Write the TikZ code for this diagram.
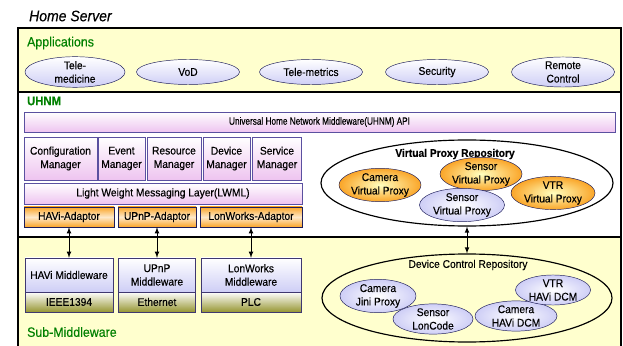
\documentclass[tikz,border=0pt]{standalone}
\usepackage{fontspec}
\setmainfont{Liberation Sans}[FakeStretch=0.92, FakeBold=0.3]
\usetikzlibrary{shapes.geometric}

\definecolor{bandyellow}{RGB}{255,255,206}
\definecolor{labelgreen}{RGB}{0,128,0}
\definecolor{boxline}{RGB}{90,80,160}
\definecolor{pinkbox}{RGB}{238,196,240}
\definecolor{lavender}{RGB}{206,206,246}
\definecolor{orangebox}{RGB}{250,165,40}
\definecolor{olivebox}{RGB}{150,150,50}
\definecolor{navyline}{RGB}{30,30,90}

\begin{document}
\begin{tikzpicture}[x=0.03cm,y=-0.03cm]

\def\u{0.03cm}

\tikzset{
    every node/.style={font=\fontsize{9.5}{11.5}\selectfont, align=center},
    band label/.style={anchor=west, text=labelgreen, font=\fontsize{11.5}{13}\selectfont},
    app/.style={ellipse, draw=navyline, top color=white, bottom color=lavender,
        middle color=lavender!50, inner sep=0pt},
    pinkbar/.style={rectangle, draw=boxline, top color=white, bottom color=pinkbox, inner sep=0pt},
    adaptor/.style={rectangle, draw=navyline, top color=orangebox, bottom color=orangebox,
        middle color=orangebox!25, inner sep=0pt, minimum height=20*\u},
    midware/.style={rectangle, draw=boxline!70!black, top color=white, bottom color=lavender,
        inner sep=0pt, minimum height=34*\u},
    phy/.style={rectangle, draw=boxline!70!black, top color=white, bottom color=olivebox,
        inner sep=0pt, minimum height=20*\u},
    repo/.style={ellipse, draw=black, line width=1pt, inner sep=0pt},
    proxy/.style={ellipse, draw=navyline, inner color=yellow!25, outer color=orangebox, inner sep=0pt},
    dcm/.style={ellipse, draw=navyline, inner color=white, outer color=lavender, inner sep=0pt},
    link/.style={<->, >=latex, draw, thick}
}

\useasboundingbox (0,0) rectangle (623,346);

% bands
\fill[bandyellow] (18,28) rectangle (621,92);
\fill[white] (18,92) rectangle (621,237);
\fill[bandyellow] (18,237) rectangle (621,360);
\draw[line width=1.2pt] (18,360) -- (18,28) -- (621,28) -- (621,360);
\draw[line width=1.2pt] (18,92) -- (621,92);
\draw[line width=1.2pt] (18,237) -- (621,237);

\node[anchor=west, font=\fontsize{13}{15}\selectfont\itshape] (title) at (25,16) {Home Server};
\node[band label] (applabel) at (23,43) {Applications};
\node[band label, font=\fontsize{10.5}{12}\selectfont\bfseries] (uhnmlabel) at (23,101) {UHNM};
\node[band label] (sublabel) at (23,332) {Sub-Middleware};

% applications
\node[app, minimum width=100*\u, minimum height=25*\u] (telemed) at (75,72) {Tele-\\medicine};
\node[app, minimum width=103*\u, minimum height=25*\u] (vod) at (188,72) {VoD};
\node[app, minimum width=103*\u, minimum height=25*\u] (telemet) at (311,72) {Tele-metrics};
\node[app, minimum width=103*\u, minimum height=25*\u] (security) at (437,72) {Security};
\node[app, minimum width=103*\u, minimum height=25*\u] (remote) at (563,72) {Remote\\Control};

% UHNM
\node[pinkbar, minimum width=591*\u, minimum height=20*\u,
    font=\fontsize{9}{10}\selectfont\addfontfeature{FakeStretch=0.78}] (api)
    at (319.5,122) {Universal Home Network Middleware(UHNM) API};
\node[pinkbar, minimum width=73*\u, minimum height=43*\u] (confmgr) at (60.5,158.5) {Configuration\\Manager};
\node[pinkbar, minimum width=47*\u, minimum height=43*\u] (eventmgr) at (121.5,158.5) {Event\\Manager};
\node[pinkbar, minimum width=54*\u, minimum height=43*\u] (resmgr) at (174,158.5) {Resource\\Manager};
\node[pinkbar, minimum width=47*\u, minimum height=43*\u] (devmgr) at (226.5,158.5) {Device\\Manager};
\node[pinkbar, minimum width=49*\u, minimum height=43*\u] (svcmgr) at (277,158.5) {Service\\Manager};
\node[pinkbar, minimum width=278*\u, minimum height=21*\u] (lwml) at (163,193.5) {Light Weight Messaging Layer(LWML)};

\node[adaptor, minimum width=90*\u] (havia) at (69,217) {HAVi-Adaptor};
\node[adaptor, minimum width=78*\u] (upnpa) at (157,217) {UPnP-Adaptor};
\node[adaptor, minimum width=102*\u] (lona) at (251,217) {LonWorks-Adaptor};

% virtual proxy repository
\node[repo, minimum width=292*\u, minimum height=86*\u] (vpr) at (467,183) {};
\node[font=\fontsize{9.5}{11}\selectfont\bfseries] (vprtitle) at (455,154) {Virtual Proxy Repository};
\node[proxy, minimum width=82*\u, minimum height=24*\u] (camvp) at (380,185) {Camera\\Virtual Proxy};
\node[proxy, minimum width=82*\u, minimum height=26*\u] (sensvp) at (481,174) {Sensor\\Virtual Proxy};
\node[dcm, minimum width=85*\u, minimum height=24*\u] (sensvp2) at (462,205) {Sensor\\Virtual Proxy};
\node[proxy, minimum width=84*\u, minimum height=27*\u] (vtrvp) at (553,193) {VTR\\Virtual Proxy};

% sub-middleware
\node[midware, minimum width=88*\u] (havimw) at (69,275) {HAVi Middleware};
\node[phy, minimum width=88*\u] (ieee) at (69,302) {IEEE1394};
\node[midware, minimum width=77*\u] (upnpmw) at (157,275) {UPnP\\Middleware};
\node[phy, minimum width=77*\u] (ether) at (157,302) {Ethernet};
\node[midware, minimum width=100*\u] (lonmw) at (251,275) {LonWorks\\Middleware};
\node[phy, minimum width=100*\u] (plc) at (251,302) {PLC};

% device control repository
\node[repo, minimum width=290*\u, minimum height=88*\u] (dcr) at (467,298) {};
\node (dcrtitle) at (468,265) {Device Control Repository};
\node[dcm, minimum width=76*\u, minimum height=24*\u] (camjini) at (378,296) {Camera\\Jini Proxy};
\node[dcm, minimum width=80*\u, minimum height=25*\u] (senslon) at (433,319) {Sensor\\LonCode};
\node[dcm, minimum width=82*\u, minimum height=24*\u] (camdcm) at (516,316) {Camera\\HAVi DCM};
\node[dcm, minimum width=75*\u, minimum height=25*\u] (vtrdcm) at (553,290) {VTR\\HAVi DCM};

% links
\path[link] (havia.south) -- (havia.south |- havimw.north);
\path[link] (upnpa.south) -- (upnpa.south |- upnpmw.north);
\path[link] (lona.south) -- (lona.south |- lonmw.north);
\path[link] (vpr.south) -- (dcr.north);

\end{tikzpicture}
\end{document}
